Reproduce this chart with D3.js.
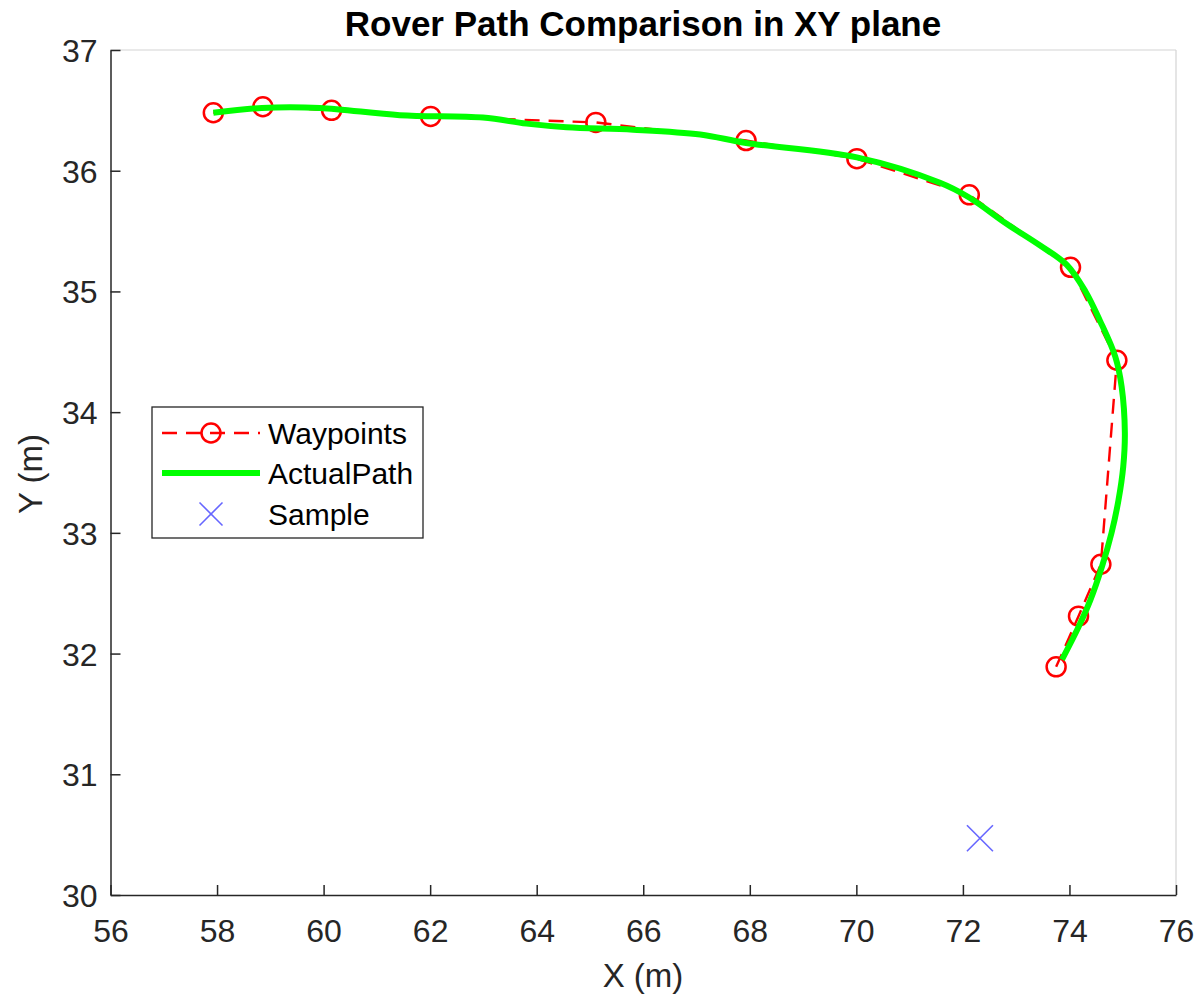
<!DOCTYPE html>
<html lang="en">
<head>
    <meta charset="UTF-8">
    <script src="https://cdnjs.cloudflare.com/ajax/libs/d3/7.8.5/d3.min.js"></script>
    <title>Rover Path Comparison</title>
    <style>
        body { margin: 0; background: #fff; }
        text { font-family: "Liberation Sans", Arial, sans-serif; }
    </style>
</head>
<body>
    <script>
        // waypoints (m)
        var wayX = [57.93, 58.86, 60.15, 62.01, 65.11, 67.93, 70.01, 72.12, 74.02, 74.89, 74.59, 74.17, 73.75];
        var wayY = [36.48, 36.53, 36.50, 36.45, 36.40, 36.25, 36.10, 35.80, 35.20, 34.43, 32.74, 32.31, 31.89];

        // actual path (m)
        var pathX = [57.93, 58.84, 59.93, 61.43, 62.99, 63.81, 64.56, 65.81, 67.07, 67.93, 70.01, 71.57, 72.11, 72.82, 73.45, 73.95,
                     74.30, 74.57, 74.86, 74.98, 75.04, 75.01, 74.92, 74.79, 74.61, 74.39, 74.17, 73.86];
        var pathY = [36.48, 36.52, 36.52, 36.46, 36.44, 36.39, 36.36, 36.34, 36.30, 36.23, 36.11, 35.90, 35.78, 35.56, 35.38, 35.22,
                     35.00, 34.76, 34.46, 34.21, 33.83, 33.55, 33.27, 33.00, 32.72, 32.44, 32.22, 31.95];

        var sampleX = [72.32];
        var sampleY = [30.47];

        var xTicks = [56, 58, 60, 62, 64, 66, 68, 70, 72, 74, 76];
        var yTicks = [30, 31, 32, 33, 34, 35, 36, 37];

        var width = 1203, height = 1000;
        var mLeft = 110.5, mRight = 1176, mTop = 50, mBottom = 895;

        var x = d3.scaleLinear().domain([56, 76]).range([mLeft, mRight]);
        var y = d3.scaleLinear().domain([30, 37]).range([mBottom, mTop]);

        var svg = d3.select('body').append('svg')
                    .attr('width', width)
                    .attr('height', height);

        // box (top/right light)
        svg.append('line').attr('x1', mLeft).attr('x2', mRight).attr('y1', mTop).attr('y2', mTop)
            .attr('stroke', '#d4d4d4').attr('stroke-width', 1.2);
        svg.append('line').attr('x1', mRight).attr('x2', mRight).attr('y1', mTop).attr('y2', mBottom)
            .attr('stroke', '#d4d4d4').attr('stroke-width', 1.2);

        var xAxis = d3.axisBottom(x).tickValues(xTicks).tickFormat(d3.format('d'))
                        .tickSizeInner(-10).tickSizeOuter(0).tickPadding(24);
        var yAxis = d3.axisLeft(y).tickValues(yTicks).tickFormat(d3.format('d'))
                        .tickSizeInner(-10).tickSizeOuter(0).tickPadding(13);

        var gx = svg.append('g').attr('transform', 'translate(0,' + mBottom + ')').call(xAxis);
        var gy = svg.append('g').attr('transform', 'translate(' + mLeft + ',0)').call(yAxis);

        [gx, gy].forEach(function(g){
            g.select('.domain').attr('stroke', '#262626').attr('stroke-width', 1.5);
            g.selectAll('.tick line').attr('stroke', '#262626').attr('stroke-width', 1.5);
            g.selectAll('.tick text').attr('fill', '#262626').style('font-size', '32px')
                .style('font-family', '"Liberation Sans", Arial, sans-serif');
        });
        gy.selectAll('.tick text').attr('dy', '0.36em');

        // titles
        svg.append('text').attr('x', 643).attr('y', 36)
            .attr('text-anchor', 'middle').style('font-size', '35px').style('font-weight', 'bold')
            .attr('fill', '#000').text('Rover Path Comparison in XY plane');
        svg.append('text').attr('x', 643).attr('y', 987)
            .attr('text-anchor', 'middle').style('font-size', '33px')
            .attr('fill', '#262626').text('X (m)');
        svg.append('text').attr('transform', 'translate(42,474) rotate(-90)')
            .attr('text-anchor', 'middle').style('font-size', '33px')
            .attr('fill', '#262626').text('Y (m)');

        var plot = svg.append('g');

        var way = d3.range(wayX.length).map(function(i){ return [wayX[i], wayY[i]]; });
        var act = d3.range(pathX.length).map(function(i){ return [pathX[i], pathY[i]]; });

        var straight = d3.line().x(function(d){return x(d[0]);}).y(function(d){return y(d[1]);});
        var smooth = d3.line().x(function(d){return x(d[0]);}).y(function(d){return y(d[1]);})
                        .curve(d3.curveCatmullRom.alpha(0.5));

        plot.append('path').attr('d', straight(way)).attr('fill', 'none')
            .attr('stroke', '#ff0000').attr('stroke-width', 2.4).attr('stroke-dasharray', '15,9');

        plot.selectAll('circle.wp').data(way).enter().append('circle')
            .attr('class', 'wp')
            .attr('cx', function(d){return x(d[0]);})
            .attr('cy', function(d){return y(d[1]);})
            .attr('r', 9.5).attr('fill', 'none').attr('stroke', '#ff0000').attr('stroke-width', 2.5);

        plot.append('path').attr('d', smooth(act)).attr('fill', 'none')
            .attr('stroke', '#00ff00').attr('stroke-width', 6).attr('stroke-linecap', 'butt');

        // sample marker
        var cross = function(g, cx, cy, s) {
            g.append('line').attr('x1', cx - s).attr('y1', cy - s).attr('x2', cx + s).attr('y2', cy + s)
                .attr('stroke', '#6666ff').attr('stroke-width', 1.6);
            g.append('line').attr('x1', cx - s).attr('y1', cy + s).attr('x2', cx + s).attr('y2', cy - s)
                .attr('stroke', '#6666ff').attr('stroke-width', 1.6);
        };
        sampleX.forEach(function(v, i){ cross(plot, x(v), y(sampleY[i]), 13); });

        // legend
        var lg = svg.append('g').attr('transform', 'translate(152,407)');
        lg.append('rect').attr('width', 271).attr('height', 131).attr('fill', '#fff')
            .attr('stroke', '#262626').attr('stroke-width', 1.3);
        var rows = [26, 66, 107];
        lg.append('line').attr('x1', 10).attr('x2', 108).attr('y1', rows[0]).attr('y2', rows[0])
            .attr('stroke', '#ff0000').attr('stroke-width', 2.4).attr('stroke-dasharray', '15,9');
        lg.append('circle').attr('cx', 59).attr('cy', rows[0]).attr('r', 9.5)
            .attr('fill', 'none').attr('stroke', '#ff0000').attr('stroke-width', 2.5);
        lg.append('line').attr('x1', 10).attr('x2', 108).attr('y1', rows[1]).attr('y2', rows[1])
            .attr('stroke', '#00ff00').attr('stroke-width', 6);
        cross(lg, 59, rows[2], 11.5);
        ['Waypoints', 'ActualPath', 'Sample'].forEach(function(t, i){
            lg.append('text').attr('x', 116).attr('y', rows[i]).attr('dy', '0.36em')
                .style('font-size', '30px').attr('fill', '#000').text(t);
        });
    </script>
</body>
</html>
